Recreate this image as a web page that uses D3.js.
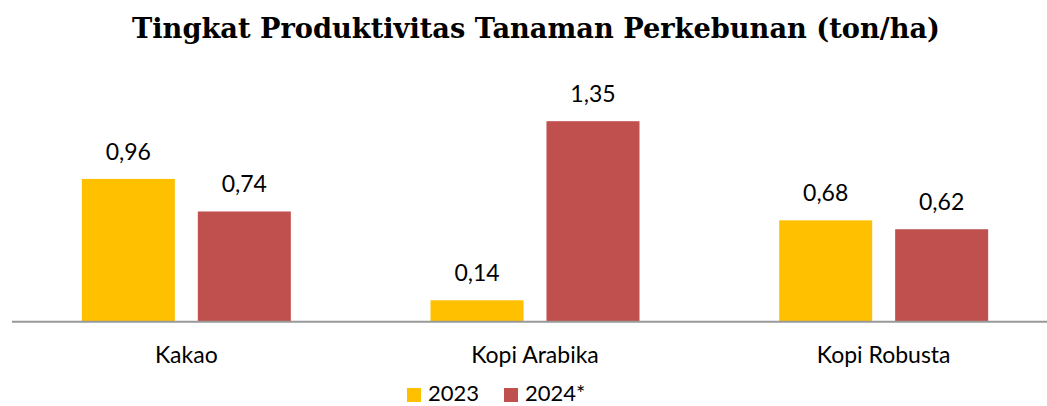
<!DOCTYPE html>
<html>
<head>
<meta charset="utf-8">
<script src="https://cdn.jsdelivr.net/npm/d3@7"></script>
<style>
  html, body { margin: 0; padding: 0; background: #fff; }
  svg { display: block; }
</style>
</head>
<body>
<svg id="chart" width="1047" height="406"></svg>
<script>
const titleText = "Tingkat Produktivitas Tanaman Perkebunan (ton/ha)";
const categories = ["Kakao", "Kopi Arabika", "Kopi Robusta"];
const seriesNames = ["2023", "2024*"];
const values2023 = [0.96, 0.14, 0.68];
const values2024 = [0.74, 1.35, 0.62];
const seriesColors = ["#FFC000", "#C0504D"];

const seriesValues = [values2023, values2024];
const rows = categories.map((c, i) => ({
  cat: c,
  vals: seriesNames.map((s, j) => ({ series: s, idx: j, value: seriesValues[j][i] }))
}));

const svg = d3.select("#chart");
const labelFont = "Lato, 'Open Sans', sans-serif";

const baseY = 321;
const x0 = d3.scaleBand().domain(categories).range([12, 1058]).paddingInner(0).paddingOuter(0);
const x1 = d3.scaleBand().domain(seriesNames).range([-104.5, 104.5]).paddingInner(0.198).paddingOuter(0);
const y = d3.scaleLinear().domain([0, 1.5]).range([baseY, baseY - 1.5 * 148]);

// title
svg.append("text")
  .attr("x", 132).attr("y", 38)
  .attr("textLength", 808).attr("lengthAdjust", "spacingAndGlyphs")
  .attr("font-family", "'DejaVu Serif', serif")
  .attr("font-weight", "bold")
  .attr("font-size", 27)
  .attr("fill", "#000")
  .text(titleText);

const groups = svg.selectAll("g.grp").data(rows).enter().append("g")
  .attr("class", "grp")
  .attr("transform", d => `translate(${x0(d.cat) + x0.bandwidth() / 2},0)`);

groups.selectAll("rect").data(d => d.vals).enter().append("rect")
  .attr("x", d => x1(d.series))
  .attr("width", x1.bandwidth())
  .attr("y", d => y(d.value))
  .attr("height", d => y(0) - y(d.value))
  .attr("fill", d => seriesColors[d.idx]);

const fmt = v => d3.format(".2f")(v).replace(".", ",");
groups.selectAll("text.val").data(d => d.vals).enter().append("text")
  .attr("class", "val")
  .attr("x", d => x1(d.series) + x1.bandwidth() / 2)
  .attr("y", d => y(d.value) - 19)
  .attr("text-anchor", "middle")
  .attr("font-family", labelFont)
  .attr("font-size", 23)
  .attr("fill", "#000")
  .text(d => fmt(d.value));

// axis line
svg.append("line")
  .attr("x1", 12).attr("x2", 1047)
  .attr("y1", baseY + 0.8).attr("y2", baseY + 0.8)
  .attr("stroke", "#999").attr("stroke-width", 2);

// category labels
svg.selectAll("text.cat").data(categories).enter().append("text")
  .attr("class", "cat")
  .attr("x", d => x0(d) + x0.bandwidth() / 2)
  .attr("y", 363)
  .attr("text-anchor", "middle")
  .attr("font-family", labelFont)
  .attr("font-size", 23)
  .attr("fill", "#000")
  .text(d => d);

// legend
const legendX = [407, 504];
const lg = svg.selectAll("g.leg").data(seriesNames).enter().append("g")
  .attr("class", "leg")
  .attr("transform", (d, i) => `translate(${legendX[i]},0)`);
lg.append("rect")
  .attr("x", 0).attr("y", 388).attr("width", 14).attr("height", 14)
  .attr("fill", (d, i) => seriesColors[i]);
lg.append("text")
  .attr("x", 21).attr("y", 401)
  .attr("font-family", labelFont)
  .attr("font-size", 22)
  .attr("fill", "#000")
  .text(d => d);
</script>
</body>
</html>
